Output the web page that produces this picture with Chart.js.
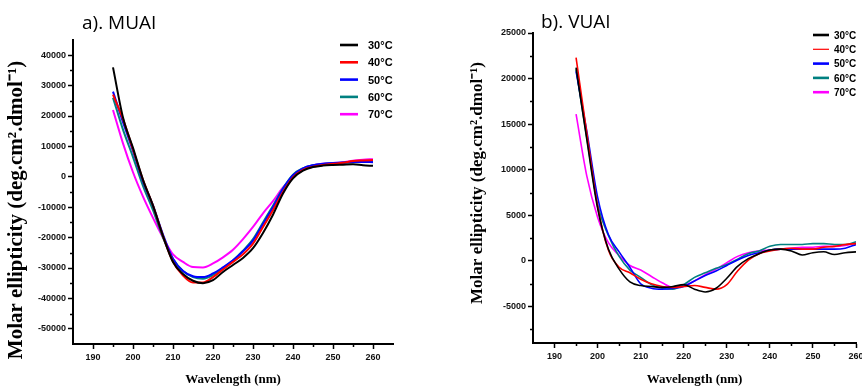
<!DOCTYPE html>
<html>
<head>
<meta charset="utf-8">
<script src="https://cdn.jsdelivr.net/npm/chart.js@4"></script>
<style>
body { margin: 0; background: #fff; }
#wrap { position: relative; width: 862px; height: 387px; overflow: hidden; }
canvas { position: absolute; top: 0; }
#chartA { left: 0; }
#chartB { left: 430px; }
</style>
</head>
<body>
<div id="wrap">
<canvas id="chartA" width="430" height="387"></canvas>
<canvas id="chartB" width="432" height="387"></canvas>
</div>
<script>
//wavelengths (nm) the spectra were read at
var wavelengths = [195, 197.5, 200, 202.5, 205, 207.5, 210, 212.5, 215, 217.5, 220, 222.5, 225,
    227.5, 230, 232.5, 235, 237.5, 240, 242.5, 245, 247.5, 250, 252.5, 255, 257.5, 260];

var temps = ['30°C', '40°C', '50°C', '60°C', '70°C'];
var colors = ['#000000', '#ff0000', '#0000ff', '#008080', '#ff00ff'];

//a). MUAI
var muai30 = [36000, 19500, 9500, -1000, -9500, -19500, -28000, -32000, -34200, -35000, -34000, -31300, -29000,
    -26700, -23500, -18500, -12500, -5500, -500, 2000, 3200, 3700, 3900, 4000, 4100, 3800, 3600];
var muai40 = [27000, 19000, 9000, -1000, -9500, -19500, -28000, -32500, -34800, -34800, -33000, -30500, -28000,
    -25500, -22000, -16500, -11000, -5000, -200, 2300, 3300, 3900, 4300, 4600, 5200, 5400, 5500];
var muai50 = [28000, 18000, 8500, -1500, -9500, -19000, -27000, -31000, -32700, -33000, -31800, -29800, -27500,
    -24500, -21000, -15500, -10000, -4000, 500, 2800, 3800, 4300, 4500, 4700, 4900, 4900, 4800];
var muai60 = [26000, 15500, 6500, -3000, -11000, -20000, -27000, -31000, -33000, -33500, -32300, -30000, -27500,
    -24300, -20500, -15000, -9500, -3800, 700, 2800, 3800, 4200, 4400, 4600, 4800, 4900, 5000];
var muai70 = [22000, 11000, 1500, -6500, -13500, -20000, -25500, -28000, -29700, -29800, -28500, -26500, -24000,
    -20500, -16500, -12000, -8000, -3500, 0, 2600, 3800, 4300, 4500, 4800, 5300, 5600, 5800];

//b). VUAI
var vuai30 = [21200, 13300, 5800, 1300, -900, -2300, -2700, -2800, -2900, -2800, -2600, -3100, -3400,
    -3000, -1900, -600, 250, 800, 1200, 1300, 1100, 650, 900, 1000, 700, 900, 1000];
var vuai40 = [22300, 14000, 6000, 1200, -700, -1300, -2000, -2500, -2800, -2900, -2800, -2700, -2900,
    -3100, -2600, -1100, 100, 800, 1100, 1300, 1400, 1300, 1300, 1500, 1600, 1800, 1900];
var vuai50 = [20800, 14200, 7000, 2900, 1000, -700, -2500, -3000, -3100, -3000, -2800, -2200, -1600,
    -1100, -500, 100, 600, 900, 1200, 1300, 1300, 1300, 1300, 1300, 1300, 1400, 1800];
var vuai60 = [21000, 13500, 6200, 2800, 500, -1000, -1800, -2600, -3000, -3100, -2600, -1800, -1300,
    -800, -400, 200, 800, 1100, 1600, 1800, 1800, 1800, 1900, 1900, 1800, 1800, 2100];
var vuai70 = [16100, 9300, 4800, 2000, 600, -500, -1000, -1700, -2400, -2900, -2700, -2200, -1500,
    -900, -200, 500, 900, 1100, 1200, 1300, 1400, 1500, 1500, 1600, 1600, 1700, 2000];

//axis ticks
var xTicks = [190, 200, 210, 220, 230, 240, 250, 260];
var yTicksA = [-50000, -40000, -30000, -20000, -10000, 0, 10000, 20000, 30000, 40000];
var yTicksB = [-5000, 0, 5000, 10000, 15000, 20000, 25000];

var ylabel = 'Molar ellipticity (deg.cm².dmol⁻¹)';
var xlabel = 'Wavelength (nm)';

//turns a list of values into points for the linear x axis
function points(values)
{
    var pts = [];
    for (var i = 0; i < values.length; i++)
    {
        pts.push({x: wavelengths[i], y: values[i]});
    }
    return pts;
}

function makeDatasets(series, width)
{
    var sets = [];
    for (var i = 0; i < series.length; i++)
    {
        sets.push({
            label: temps[i],
            data: points(series[i]),
            borderColor: colors[i],
            borderWidth: width,
            pointRadius: 0,
            fill: false,
            cubicInterpolationMode: 'monotone'
        });
    }
    return sets;
}

//draws panel title, rotated y label, legend and minor ticks
var decor = {
    id: 'decor',
    afterDraw: function(chart, args, o)
    {
        var ctx = chart.ctx;
        var xs = chart.scales.x;
        var ys = chart.scales.y;
        ctx.save();

        //minor ticks
        ctx.strokeStyle = '#000';
        ctx.lineWidth = 1.5;
        ctx.beginPath();
        for (var k = -2; k < 30; k++)
        {
            var vx = xTicks[0] + o.xHalf + k * 2 * o.xHalf;
            if (vx > xs.min && vx < xs.max)
            {
                var px = Math.round(xs.getPixelForValue(vx)) + 0.5;
                ctx.moveTo(px, xs.top);
                ctx.lineTo(px, xs.top + 3);
            }
            var vy = o.yTicks[0] + o.yHalf + k * 2 * o.yHalf;
            if (vy > ys.min && vy < ys.max)
            {
                var py = Math.round(ys.getPixelForValue(vy)) + 0.5;
                ctx.moveTo(ys.right, py);
                ctx.lineTo(ys.right - 3, py);
            }
        }
        ctx.stroke();

        //panel title
        ctx.fillStyle = '#000';
        ctx.font = o.titleFont;
        ctx.textAlign = 'left';
        ctx.textBaseline = 'alphabetic';
        ctx.fillText(o.title, o.titleX, o.titleY);

        //y label
        ctx.save();
        ctx.translate(o.ylabX, o.ylabY);
        ctx.rotate(-Math.PI / 2);
        ctx.font = o.ylabFont;
        ctx.textAlign = 'center';
        ctx.textBaseline = 'middle';
        ctx.fillText(ylabel, 0, 0);
        ctx.restore();

        //legend
        ctx.font = o.legFont;
        ctx.textBaseline = 'middle';
        for (var i = 0; i < temps.length; i++)
        {
            var ly = o.legY + i * o.legGap;
            ctx.strokeStyle = colors[i];
            ctx.lineWidth = (o.legThin && i == 1) ? 1.2 : 2.6;
            ctx.beginPath();
            ctx.moveTo(o.legX, ly);
            ctx.lineTo(o.legX + o.legLen, ly);
            ctx.stroke();
            ctx.fillStyle = '#000';
            ctx.fillText(temps[i], o.legX + o.legLen + o.legPad, ly + 1);
        }
        ctx.restore();
    }
};

var tickFont = {family: 'Liberation Sans', size: 9, weight: 'bold'};

function makeChart(id, series, cfg)
{
    return new Chart(document.getElementById(id), {
        type: 'line',
        data: {datasets: makeDatasets(series, cfg.lineWidth)},
        plugins: [decor],
        options: {
            responsive: false,
            animation: false,
            devicePixelRatio: 1,
            layout: {padding: {top: cfg.top, right: cfg.right, left: 0, bottom: 0}},
            plugins: {
                legend: {display: false},
                tooltip: {enabled: false},
                decor: cfg.decor
            },
            scales: {
                x: {
                    type: 'linear',
                    min: cfg.xMin,
                    max: cfg.xMax,
                    afterBuildTicks: function(s) { s.ticks = xTicks.map(function(v) { return {value: v}; }); },
                    afterFit: function(s) { s.height = cfg.xHeight; s.paddingLeft = 0; s.paddingRight = 0; },
                    grid: {drawOnChartArea: false, tickLength: 5, tickColor: '#000', tickWidth: 1.5},
                    border: {display: true, color: '#000', width: 2},
                    ticks: {font: tickFont, color: '#111', padding: 3, maxRotation: 0,
                        callback: function(v) { return String(v); }},
                    title: {display: true, text: xlabel, color: '#000', padding: {top: 0, bottom: 0},
                        font: {family: 'Liberation Serif', size: 13, weight: 'bold'}}
                },
                y: {
                    type: 'linear',
                    min: cfg.yMin,
                    max: cfg.yMax,
                    afterBuildTicks: function(s) { s.ticks = cfg.yTicks.map(function(v) { return {value: v}; }); },
                    afterFit: function(s) { s.width = cfg.yWidth; s.paddingTop = 0; s.paddingBottom = 0; },
                    grid: {drawOnChartArea: false, tickLength: 5, tickColor: '#000', tickWidth: 1.5},
                    border: {display: true, color: '#000', width: 2},
                    ticks: {font: tickFont, color: '#111', padding: 2,
                        callback: function(v) { return String(v); }}
                }
            }
        }
    });
}

makeChart('chartA', [muai30, muai40, muai50, muai60, muai70], {
    lineWidth: 2, top: 40, right: 37, xHeight: 43, yWidth: 73,
    xMin: 185, xMax: 265, yMin: -55000, yMax: 45000, yTicks: yTicksA,
    decor: {
        xHalf: 5, yHalf: 5000, yTicks: yTicksA,
        title: 'a). MUAI', titleX: 82, titleY: 29, titleFont: '19px "Open Sans"',
        ylabX: 17, ylabY: 210, ylabFont: 'bold 21px "Liberation Serif"',
        legX: 340, legY: 45, legGap: 17.3, legLen: 18, legPad: 10, legFont: 'bold 11px "Liberation Sans"'
    }
});

makeChart('chartB', [vuai30, vuai40, vuai50, vuai60, vuai70], {
    lineWidth: 1.6, top: 33, right: 6, xHeight: 44, yWidth: 103,
    xMin: 185, xMax: 260, yMin: -9000, yMax: 25000, yTicks: yTicksB,
    decor: {
        xHalf: 5, yHalf: 2500, yTicks: yTicksB,
        title: 'b). VUAI', titleX: 111, titleY: 28, titleFont: '19px "Open Sans"',
        ylabX: 48, ylabY: 183, ylabFont: 'bold 17px "Liberation Serif"',
        legX: 383, legY: 35, legGap: 14.3, legLen: 16, legPad: 5, legFont: 'bold 10px "Liberation Sans"', legThin: true
    }
});
</script>
</body>
</html>
